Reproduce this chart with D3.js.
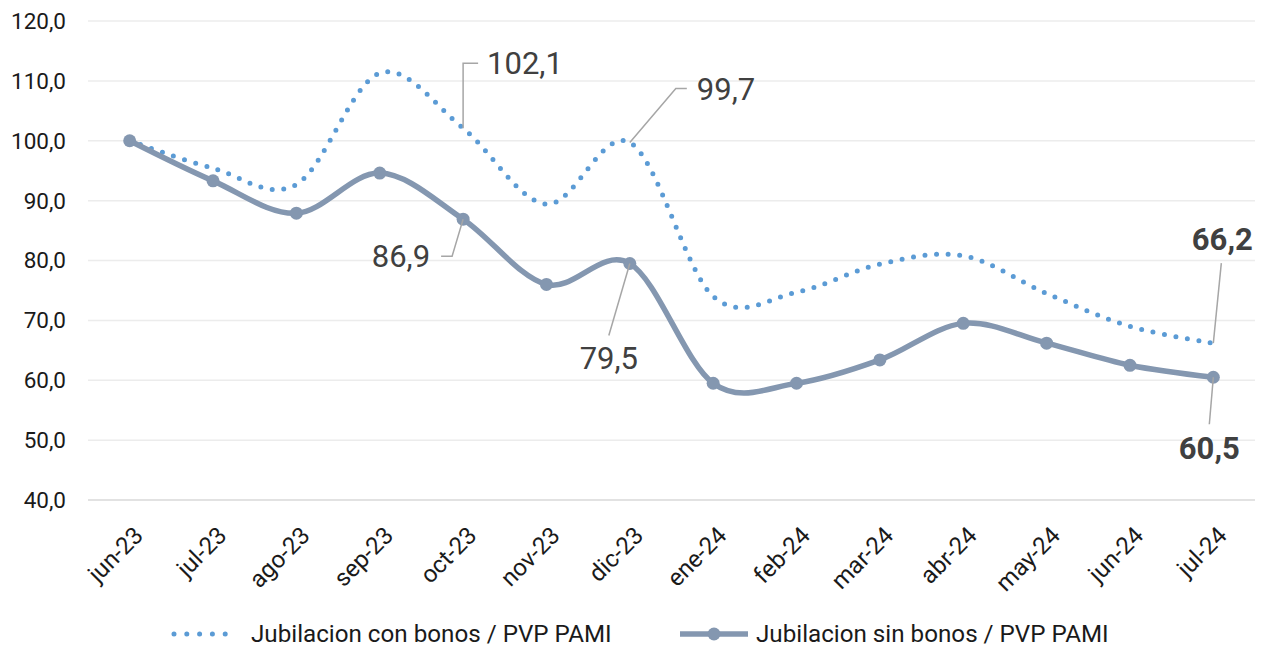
<!DOCTYPE html>
<html>
<head>
<meta charset="utf-8">
<script src="https://cdn.jsdelivr.net/npm/d3@7"></script>
<style>
  body { margin: 0; background: #fff; }
  svg { font-family: Roboto, "Noto Sans", sans-serif; }
</style>
</head>
<body>
<svg width="1263" height="647"></svg>
<script>
// Categories (months)
var months = ["jun-23", "jul-23", "ago-23", "sep-23", "oct-23", "nov-23", "dic-23",
  "ene-24", "feb-24", "mar-24", "abr-24", "may-24", "jun-24", "jul-24"];

// Series values
var conBonos = [100.0, 95.4, 92.7, 111.3, 102.1, 89.4, 99.7, 74.0, 74.7, 79.4, 80.8, 74.5, 69.0, 66.2];
var sinBonos = [100.0, 93.3, 87.9, 94.6, 86.9, 76.0, 79.5, 59.5, 59.5, 63.4, 69.5, 66.2, 62.5, 60.5];

// Series names
var conName = "Jubilacion con bonos / PVP PAMI";
var sinName = "Jubilacion sin bonos / PVP PAMI";

// Y ticks
var yTicks = [40, 50, 60, 70, 80, 90, 100, 110, 120];

// Which points get a data label (index into months)
var conLabelIdx = [4, 6, 13];
var sinLabelIdx = [4, 6, 13];

var conColor = "#5b9bd5",
  sinColor = "#8497b0",
  leaderColor = "#a6a6a6",
  labelColor = "#404040";

var svg = d3.select("svg");
var fmt = function (v) { return d3.format(".1f")(v).replace(".", ","); };

var x = d3.scalePoint().domain(months).range([88, 1255]).padding(0.5);
var y = d3.scaleLinear().domain([40, 120]).range([500, 21]);

// Gridlines
svg.append("g")
  .selectAll("line")
  .data(yTicks)
  .enter()
  .append("line")
  .attr("x1", 88)
  .attr("x2", 1255)
  .attr("y1", (d) => y(d))
  .attr("y2", (d) => y(d))
  .attr("stroke", (d) => (d === 40 ? "#d9d9d9" : "#ececec"))
  .attr("stroke-width", 1.5);

// Y axis labels
svg.append("g")
  .selectAll("text")
  .data(yTicks)
  .enter()
  .append("text")
  .attr("x", 66)
  .attr("y", (d) => y(d))
  .attr("dy", "0.35em")
  .attr("text-anchor", "end")
  .attr("font-size", 22.5)
  .attr("fill", "#1a1a1a")
  .text((d) => fmt(d));

// X axis labels (rotated)
svg.append("g")
  .selectAll("text")
  .data(months)
  .enter()
  .append("text")
  .attr("transform", (d) => "translate(" + (x(d) + 9) + ",531) rotate(-45)")
  .attr("dy", "0.35em")
  .attr("text-anchor", "end")
  .attr("font-size", 24)
  .attr("fill", "#1a1a1a")
  .text((d) => d);

var line = d3.line()
  .x((d, i) => x(months[i]))
  .y((d) => y(d))
  .curve(d3.curveCatmullRom.alpha(0));

// Dotted series
svg.append("path")
  .datum(conBonos)
  .attr("d", line)
  .attr("fill", "none")
  .attr("stroke", conColor)
  .attr("stroke-width", 5)
  .attr("stroke-linecap", "round")
  .attr("stroke-dasharray", "0 11.6");

// Solid series
svg.append("path")
  .datum(sinBonos)
  .attr("d", line)
  .attr("fill", "none")
  .attr("stroke", sinColor)
  .attr("stroke-width", 5.5);

svg.append("g")
  .selectAll("circle")
  .data(sinBonos)
  .enter()
  .append("circle")
  .attr("cx", (d, i) => x(months[i]))
  .attr("cy", (d) => y(d))
  .attr("r", 6.5)
  .attr("fill", sinColor);

// Data labels with leader lines (offsets relative to the point)
var labelStyle = {
  "con-4": { path: [[0, 0], [0, -65], [15, -65]], tx: 24, ty: -65, anchor: "start", bold: false },
  "con-6": { path: [[0, 0], [46, -54], [57, -54]], tx: 67, ty: -54, anchor: "start", bold: false },
  "con-13": { path: [[0, 0], [8, -80]], tx: 9, ty: -104, anchor: "middle", bold: true },
  "sin-4": { path: [[0, 0], [-11, 37], [-22, 37]], tx: -33, ty: 37, anchor: "end", bold: false },
  "sin-6": { path: [[0, 0], [-21, 72]], tx: -21, ty: 94, anchor: "middle", bold: false },
  "sin-13": { path: [[0, 0], [-4, 47]], tx: -4, ty: 71, anchor: "middle", bold: true },
};

function addLabels(key, values, idx) {
  idx.forEach(function (i) {
    var s = labelStyle[key + "-" + i];
    var px = x(months[i]), py = y(values[i]);
    svg.append("path")
      .attr("d", d3.line()(s.path.map((p) => [px + p[0], py + p[1]])))
      .attr("fill", "none")
      .attr("stroke", leaderColor)
      .attr("stroke-width", 1.5);
    svg.append("text")
      .attr("x", px + s.tx)
      .attr("y", py + s.ty)
      .attr("dy", "0.36em")
      .attr("text-anchor", s.anchor)
      .attr("font-size", 31)
      .attr("font-weight", s.bold ? "bold" : "normal")
      .attr("fill", labelColor)
      .text(fmt(values[i]));
  });
}
addLabels("con", conBonos, conLabelIdx);
addLabels("sin", sinBonos, sinLabelIdx);

// Legend
var legend = svg.append("g").attr("transform", "translate(0,634)");
legend.append("line")
  .attr("x1", 174).attr("x2", 238)
  .attr("stroke", conColor)
  .attr("stroke-width", 5)
  .attr("stroke-linecap", "round")
  .attr("stroke-dasharray", "0 12.8");
legend.append("text")
  .attr("x", 251).attr("dy", "0.35em")
  .attr("font-size", 24.2).attr("fill", "#1a1a1a")
  .text(conName);
legend.append("line")
  .attr("x1", 680).attr("x2", 748)
  .attr("stroke", sinColor)
  .attr("stroke-width", 5.5);
legend.append("circle")
  .attr("cx", 714).attr("r", 6.5)
  .attr("fill", sinColor);
legend.append("text")
  .attr("x", 756).attr("dy", "0.35em")
  .attr("font-size", 24.2).attr("fill", "#1a1a1a")
  .text(sinName);
</script>
</body>
</html>
